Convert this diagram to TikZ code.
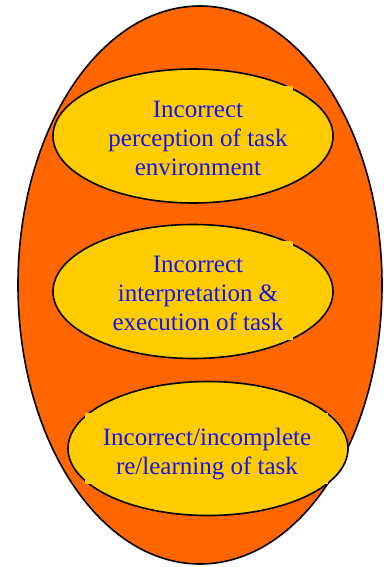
\documentclass[tikz,border=0pt]{standalone}
\usepackage{fontspec}
\setmainfont{Liberation Serif}
\usetikzlibrary{shapes.geometric}
\definecolor{outerorange}{RGB}{255,102,0}
\definecolor{innergold}{RGB}{255,204,0}
\definecolor{labelblue}{RGB}{20,20,240}
\tikzset{
  outerbubble/.style={ellipse, draw=black, line width=1.6pt, fill=outerorange,
    minimum width=364pt, minimum height=558pt, inner sep=0pt},
  innerbubble/.style={ellipse, draw=black, line width=1.6pt, fill=innergold,
    minimum width=280pt, minimum height=134pt, inner sep=0pt},
  patchbox/.style={fill=innergold, inner sep=0pt},
  labeltext/.style={inner sep=0pt, align=center,
    text=labelblue, font=\fontsize{25}{29}\selectfont},
}
\begin{document}
\begin{tikzpicture}[x=1pt, y=-1pt]
  \useasboundingbox (0,0) rectangle (383,567);
  % outer container
  \node[outerbubble] (outer) at (200,285) {};
  % three inner categories
  \node[innerbubble] (perc) at (193,136) {};
  \node[innerbubble] (interp) at (193,291.5) {};
  \node[innerbubble] (learn) at (208,448.5) {};
  % text frames (filled, no border)
  \node[patchbox, minimum width=190pt, minimum height=96pt] (percP) at (198,134) {};
  \node[patchbox, minimum width=190pt, minimum height=99pt] (interpP) at (198,290.5) {};
  \node[patchbox, minimum width=243pt, minimum height=71pt] (learnP) at (206.5,448.5) {};
  % labels
  \node[labeltext] (percT) at (198,138)
    {Incorrect\\perception of task\\environment};
  \node[labeltext] (interpT) at (198,293)
    {Incorrect\\interpretation \&\\execution of task};
  \node[labeltext] (learnT) at (207,454.5)
    {Incorrect/incomplete\\re/learning of task};
\end{tikzpicture}
\end{document}
